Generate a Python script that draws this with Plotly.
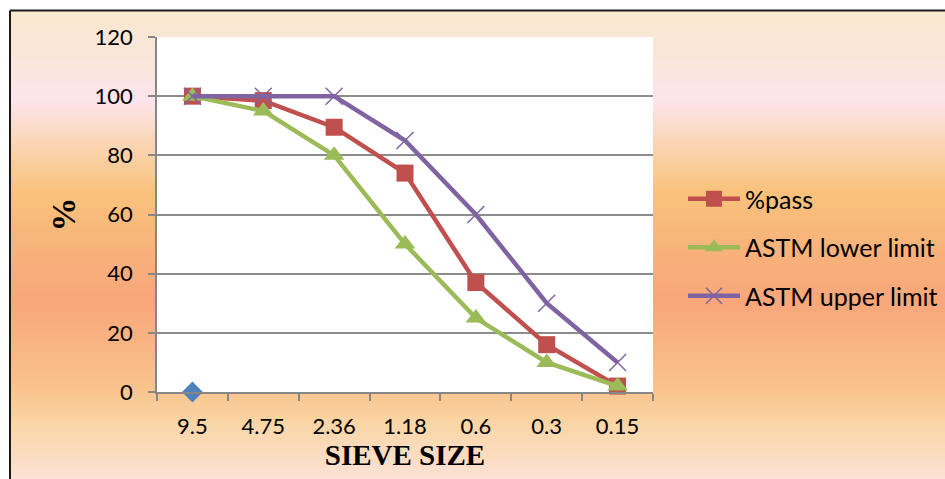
import plotly.graph_objects as go

sizes = ["9.5", "4.75", "2.36", "1.18", "0.6", "0.3", "0.15"]
series_blue = [0]
pass_pct = [100, 98.5, 89.5, 74, 37, 16, 2]
astm_lower = [100, 95, 80, 50, 25, 10, 2]
astm_upper = [100, 100, 100, 85, 60, 30, 10]

W, H = 945, 479
L, R, T, B = 157, 653, 37, 392

def px(x):
    return (x - L) / (R - L)

def py(y):
    return (B - y) / (B - T)

fig = go.Figure()
fig.add_trace(go.Scatter(x=sizes[:1], y=series_blue, mode="markers", showlegend=False,
                         cliponaxis=False,
                         marker=dict(symbol="diamond", size=16, color="#4F81BD")))
fig.add_trace(go.Scatter(x=sizes, y=pass_pct, mode="lines+markers", name="%pass",
                         legendgroup="a", cliponaxis=False,
                         line=dict(color="#C0504D", width=4.5),
                         marker=dict(symbol="square", size=17, color="#C0504D")))
fig.add_trace(go.Scatter(x=sizes, y=astm_lower, mode="lines+markers", name="ASTM lower limit",
                         legendgroup="b", cliponaxis=False,
                         line=dict(color="#9BBB59", width=4.5),
                         marker=dict(symbol="triangle-up", size=18, color="#9BBB59")))
fig.add_trace(go.Scatter(x=sizes, y=astm_upper, mode="lines+markers", name="ASTM upper limit",
                         legendgroup="c", cliponaxis=False,
                         line=dict(color="#8064A2", width=4.5),
                         marker=dict(symbol="x-thin-open", size=17,
                                     line=dict(color="#8064A2", width=1.5))))

# background gradient strips
stops = [(11, (249, 231, 206)), (60, (250, 230, 218)), (100, (252, 228, 236)),
         (140, (250, 214, 184)), (190, (249, 195, 124)), (250, (248, 178, 122)),
         (300, (248, 166, 122)), (350, (249, 182, 132)), (390, (249, 196, 142)),
         (420, (250, 212, 162)), (479, (251, 226, 214))]

def col_at(y):
    for (y0, c0), (y1, c1) in zip(stops[:-1], stops[1:]):
        if y0 <= y <= y1:
            t = (y - y0) / (y1 - y0)
            return "rgb(%d,%d,%d)" % tuple(round(a + (b - a) * t) for a, b in zip(c0, c1))
    return "rgb(%d,%d,%d)" % stops[-1][1]

shapes = []
step = 3
y = 11
while y < H:
    y2 = min(y + step, H)
    shapes.append(dict(type="rect", xref="paper", yref="paper", layer="below",
                       x0=px(10), x1=px(W + 2), y0=py(y), y1=py(y2 + 0.6),
                       fillcolor=col_at(y + step / 2), line=dict(width=0)))
    y = y2
shapes.append(dict(type="rect", xref="x domain", yref="y domain", layer="below",
                   x0=0, x1=1, y0=0, y1=1, fillcolor="white", line=dict(width=0)))
# outer border
shapes.append(dict(type="line", xref="paper", yref="paper", x0=px(10), x1=px(W + 2),
                   y0=py(10.5), y1=py(10.5), line=dict(color="#1a1a1a", width=2)))
shapes.append(dict(type="line", xref="paper", yref="paper", x0=px(10), x1=px(10),
                   y0=py(10.5), y1=py(H + 2), line=dict(color="#1a1a1a", width=2)))

fig.update_layout(
    width=W, height=H,
    margin=dict(l=L, r=W - R, t=T, b=H - B, autoexpand=False),
    paper_bgcolor="white", plot_bgcolor="white",
    font=dict(family="Lato, sans-serif", color="#000000", size=20),
    shapes=shapes,
    showlegend=True,
    legend=dict(x=px(683), y=py(176), xanchor="left", yanchor="top",
                bgcolor="rgba(0,0,0,0)", font=dict(size=25, family="Lato"),
                itemwidth=52, tracegroupgap=13),
    xaxis=dict(type="category", categoryorder="array", categoryarray=sizes,
               range=[-0.5, 6.5], showgrid=False, showline=True, linecolor="#868686",
               linewidth=1.5, ticks="outside", tickson="boundaries", ticklen=7,
               tickcolor="#868686", tickwidth=1.5, tickfont=dict(size=22),
               ticklabelstandoff=14,
               title=dict(text="<b>SIEVE SIZE</b>", standoff=4,
                          font=dict(family="Liberation Serif", size=29))),
    yaxis=dict(range=[0, 120], dtick=20, showgrid=True, gridcolor="#8c8c8c", gridwidth=1.5,
               showline=True, linecolor="#868686", linewidth=1.5, ticks="outside",
               ticklen=7, tickcolor="#868686", tickwidth=1.5, zeroline=False,
               tickfont=dict(size=22), ticklabelstandoff=11,
               title=dict(text="<b>%</b>", standoff=9,
                          font=dict(family="Liberation Serif", size=34))),
)
fig.write_html("out.html")
